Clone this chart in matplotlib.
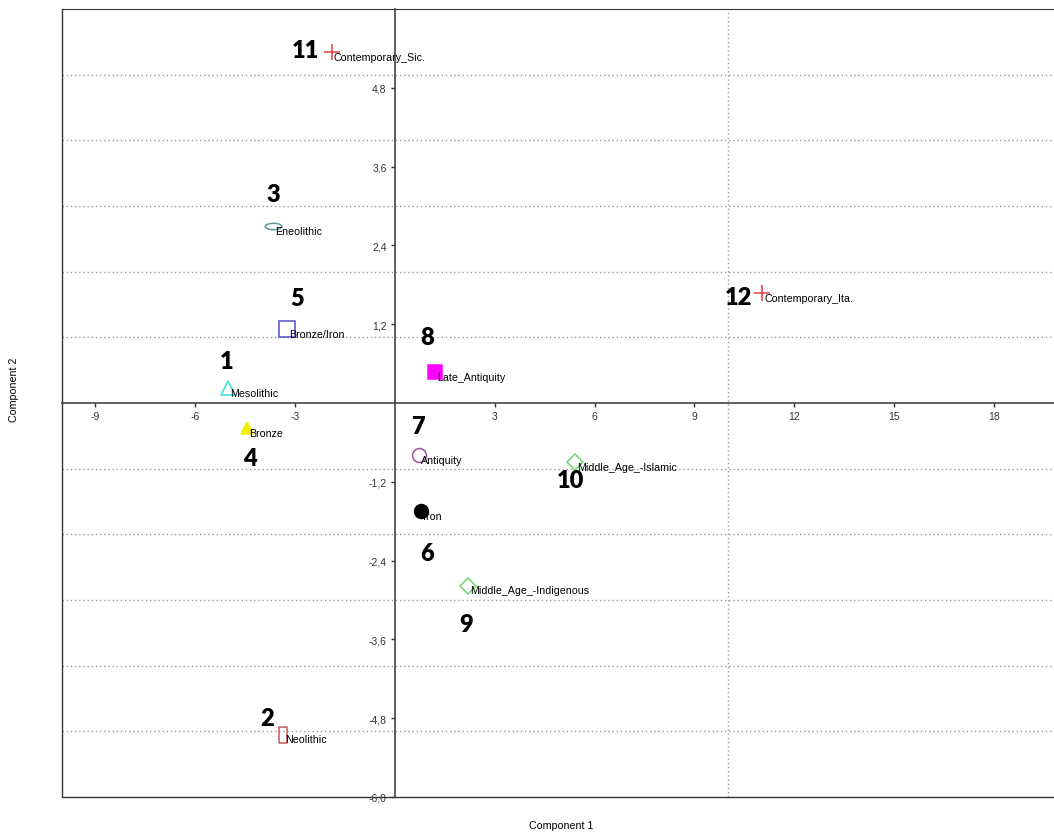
import numpy as np
import matplotlib
matplotlib.use("Agg")
import matplotlib.pyplot as plt
from matplotlib.path import Path

plt.rcParams['font.family'] = ['Liberation Sans', 'DejaVu Sans']

# Group scores on the first two components
groups = ['Mesolithic', 'Neolithic', 'Eneolithic', 'Bronze', 'Bronze/Iron', 'Iron',
          'Antiquity', 'Late_Antiquity', 'Middle_Age_-Indigenous',
          'Middle_Age_-Islamic', 'Contemporary_Sic.', 'Contemporary_Ita.']
comp1 = [-5.01, -3.37, -3.67, -4.44, -3.23, 0.79, 0.73, 1.20, 2.20, 5.40, -1.90, 11.03]
comp2 = [0.23, -5.05, 2.70, -0.38, 1.13, -1.65, -0.79, 0.47, -2.78, -0.90, 5.34, 1.68]

# Bold number annotations placed next to each group
numbers = ['1', '2', '3', '4', '5', '6', '7', '8', '9', '10', '11', '12']
num_x = [-5.07, -3.84, -3.66, -4.35, -2.94, 0.96, 0.69, 0.96, 2.13, 5.28, -2.70, 10.32]
num_y = [0.64, -4.80, 3.18, -0.84, 1.60, -2.28, -0.35, 1.00, -3.37, -1.17, 5.38, 1.61]

xticks = [-9, -6, -3, 3, 6, 9, 12, 15, 18]
xtick_labels = ['-9', '-6', '-3', '3', '6', '9', '12', '15', '18']
yticks = [-6.0, -4.8, -3.6, -2.4, -1.2, 1.2, 2.4, 3.6, 4.8]
ytick_labels = ['-6,0', '-4,8', '-3,6', '-2,4', '-1,2', '1,2', '2,4', '3,6', '4,8']

# marker shapes
t = np.linspace(0, 2 * np.pi, 40)
ellipse = Path(np.column_stack([np.cos(t), 0.38 * np.sin(t)]))
tall_rect = Path([(-0.5, -1), (0.5, -1), (0.5, 1), (-0.5, 1), (-0.5, -1)])

styles = [
    dict(marker='^', ms=10, mfc='none', mec='#33e0e0'),
    dict(marker=tall_rect, ms=11.5, mfc='none', mec='#c05a5a'),
    dict(marker=ellipse, ms=12, mfc='none', mec='#5a9a9a'),
    dict(marker='^', ms=8, mfc='#f0f000', mec='#f0f000'),
    dict(marker='s', ms=11, mfc='none', mec='#5050cc'),
    dict(marker='o', ms=10, mfc='black', mec='black'),
    dict(marker='o', ms=10, mfc='none', mec='#a050a0'),
    dict(marker='s', ms=10, mfc='#ff00ff', mec='#ff00ff'),
    dict(marker='D', ms=8, mfc='none', mec='#70d870'),
    dict(marker='D', ms=8, mfc='none', mec='#70d870'),
    dict(marker='+', ms=11, mfc='none', mec='#e04040'),
    dict(marker='+', ms=11, mfc='none', mec='#e04040'),
]

fig = plt.figure(figsize=(10.54, 8.37), dpi=100)
ax = fig.add_axes([62 / 1054, 39 / 837, 1 - 62 / 1054, 788 / 837])
ax.set_xlim(-10, 19.8)
ax.set_ylim(-6, 6)

# dotted grid
for gy in [-5, -4, -3, -2, -1, 1, 2, 3, 4, 5]:
    ax.axhline(gy, color='#999999', lw=1, ls=(0, (1, 2)), zorder=0)
ax.axvline(10, color='#999999', lw=1, ls=(0, (1, 2)), zorder=0)

# axes through the origin plus outer frame
ax.spines['left'].set_position(('data', 0))
ax.spines['bottom'].set_position(('data', 0))
ax.spines['right'].set_visible(False)
for s in ['left', 'bottom']:
    ax.spines[s].set_color('#444444')
    ax.spines[s].set_linewidth(1.2)
ax.spines['top'].set_color('#333333')
ax.plot([0, 0, 1], [1, 0, 0], transform=ax.transAxes, color='#333333', lw=1, clip_on=False)

ax.set_xticks(xticks)
ax.set_xticklabels(xtick_labels)
ax.set_yticks(yticks)
ax.set_yticklabels(ytick_labels)
ax.tick_params(axis='both', direction='out', length=3, width=1, colors='#333333',
               labelsize=7.5, labelcolor='#333333', pad=3)

for i, g in enumerate(groups):
    st = styles[i]
    ax.plot(comp1[i], comp2[i], linestyle='none', mew=1.1, zorder=3, clip_on=False, **st)
    ax.annotate(g, (comp1[i], comp2[i]), xytext=(1.5, -3.5), textcoords='offset points',
                ha='left', va='center', fontsize=7.7, color='black', zorder=4)

for i, n in enumerate(numbers):
    ax.text(num_x[i], num_y[i], n, ha='center', va='center', fontsize=17,
            fontweight='heavy', family=['Lato', 'DejaVu Sans'], color='black', zorder=5)

fig.text(561 / 1054, 1 - 826 / 837, 'Component 1', ha='center', va='center', fontsize=7.7)
fig.text(14 / 1054, 1 - 390 / 837, 'Component 2', ha='center', va='center',
         fontsize=7.7, rotation=90)

fig.savefig('out.png', dpi=100)
